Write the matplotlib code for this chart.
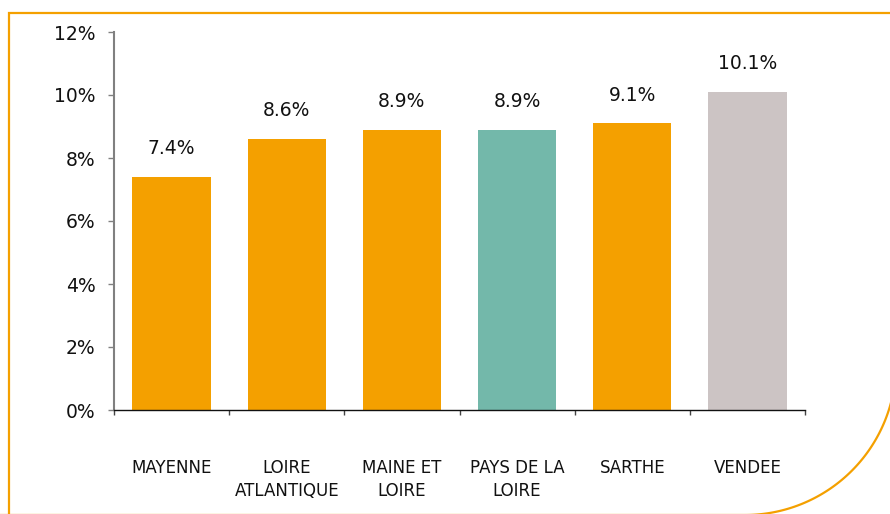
import matplotlib
matplotlib.use("Agg")
import matplotlib.pyplot as plt
import numpy as np
from matplotlib.ticker import FixedLocator, FuncFormatter

categories = ["MAYENNE", "LOIRE\nATLANTIQUE", "MAINE ET\nLOIRE", "PAYS DE LA\nLOIRE", "SARTHE", "VENDEE"]
values = [7.4, 8.6, 8.9, 8.9, 9.1, 10.1]
value_labels = ["7.4%", "8.6%", "8.9%", "8.9%", "9.1%", "10.1%"]
bar_colors = ["#F4A000", "#F4A000", "#F4A000", "#73B8AA", "#F4A000", "#CCC4C4"]
yticks = [0, 2, 4, 6, 8, 10, 12]

plt.rcParams['font.family'] = ['DejaVu Sans']

W, H = 890, 514
fig = plt.figure(figsize=(W / 100, H / 100), dpi=100)

# Decorative orange frame (pixel coordinates overlay)
bg = fig.add_axes([0, 0, 1, 1])
bg.set_xlim(0, W)
bg.set_ylim(H, 0)
bg.axis("off")
cx, cy, r = 745, 364, 151
t = np.linspace(0, np.pi / 2, 100)
px = [9, 9, cx + r] + list(cx + r * np.cos(t)) + [0]
py = [H + 10, 13, 13] + list(cy + r * np.sin(t)) + [cy + r]
bg.plot(px, py, color="#F4A000", lw=1.6, solid_joinstyle="miter")

ax = fig.add_axes([114 / W, 104 / H, 691 / W, 378 / H])
x = np.arange(len(categories))
bars = ax.bar(x, values, width=0.68, color=bar_colors, zorder=2)
ax.set_xlim(-0.5, len(categories) - 0.5)
ax.set_ylim(0, 12)

ax.bar_label(bars, labels=value_labels, padding=13.5, fontsize=13.5, color="#111111")

ax.yaxis.set_major_locator(FixedLocator(yticks))
ax.yaxis.set_major_formatter(FuncFormatter(lambda v, p: f"{int(v)}%"))
ax.tick_params(axis="y", direction="out", length=4.3, width=1, color="#808080",
               pad=9, labelsize=13.5, labelcolor="#111111")

ax.set_xticks(x)
ax.set_xticklabels(categories, fontsize=12, linespacing=1.35, color="#111111")
ax.tick_params(axis="x", which="major", length=0, pad=35)
ax.set_xticks(np.arange(-0.5, len(categories)), minor=True)
ax.tick_params(axis="x", which="minor", direction="out", length=3.6, width=1, color="#444444")

for s in ["top", "right"]:
    ax.spines[s].set_visible(False)
ax.spines["left"].set_color("#808080")
ax.spines["left"].set_linewidth(1.5)
ax.spines["bottom"].set_color("#111111")
ax.spines["bottom"].set_linewidth(1)

fig.savefig("out.png", dpi=100)
